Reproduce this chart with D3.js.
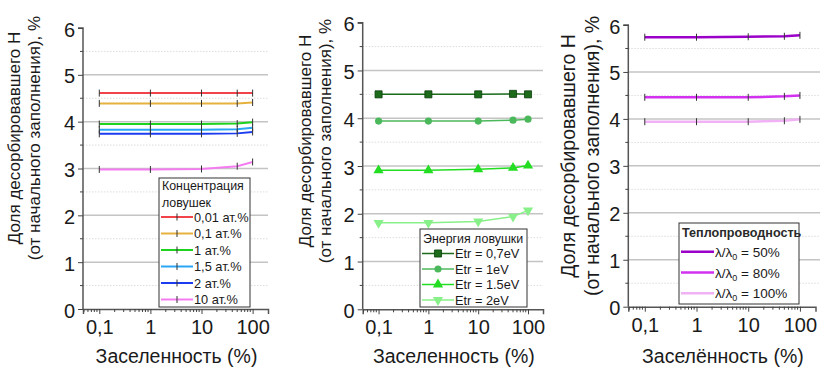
<!DOCTYPE html>
<html>
<head>
<meta charset="utf-8">
<script src="https://cdn.jsdelivr.net/npm/d3@7"></script>
<style>
  body { margin: 0; background: #fff; }
  svg { display: block; font-family: "Liberation Sans", Arial, sans-serif; }
  .tick-label { font-size: 20px; fill: #1a1a1a; }
  .axis-title { font-size: 19.5px; fill: #1a1a1a; }
  .leg-text { font-size: 13px; fill: #1a1a1a; }
</style>
</head>
<body>
<svg id="chart" width="820" height="371"></svg>
<script>
// x values (заселенность, %)
var occupancy = [0.1, 1, 10, 50, 100];
var xTickValues = [0.1, 1, 10, 100];
var xTickLabels = ["0,1", "1", "10", "100"];
var yTickValues = [0, 1, 2, 3, 4, 5, 6];

var yTitle1 = "Доля десорбировавшего Н";
var yTitle2 = "(от начального заполнения), %";

// panel 1 - trap concentration
var concTitle = ["Концентрация", "ловушек"];
var concLabels = ["0,01 ат.%", "0,1 ат.%", "1 ат.%", "1,5 ат.%", "2 ат.%", "10 ат.%"];
var concValues = [
	[4.61, 4.61, 4.61, 4.61, 4.61],
	[4.39, 4.39, 4.39, 4.39, 4.41],
	[3.95, 3.95, 3.95, 3.96, 3.99],
	[3.83, 3.83, 3.83, 3.84, 3.87],
	[3.74, 3.74, 3.74, 3.75, 3.78],
	[2.98, 2.98, 2.99, 3.05, 3.14]
];

// panel 2 - trap energy
var energyTitle = ["Энергия ловушки"];
var energyLabels = ["Etr = 0,7eV", "Etr = 1eV", "Etr = 1.5eV", "Etr = 2eV"];
var energyValues = [
	[4.50, 4.50, 4.50, 4.51, 4.50],
	[3.94, 3.94, 3.94, 3.96, 3.98],
	[2.91, 2.91, 2.93, 2.96, 3.01],
	[1.81, 1.81, 1.84, 1.94, 2.07]
];

// panel 3 - thermal conductivity
var condTitle = ["Теплопроводность"];
var condLabels = ["50%", "80%", "100%"];
var condValues = [
	[5.74, 5.74, 5.75, 5.76, 5.78],
	[4.46, 4.46, 4.46, 4.48, 4.50],
	[3.94, 3.94, 3.94, 3.96, 3.99]
];

var svg = d3.select("#chart");

// clip for the left (partly hidden) title of the 3rd panel
svg.append("defs").append("clipPath").attr("id", "clip3")
	.append("rect").attr("x", 557).attr("y", 0).attr("width", 263).attr("height", 371);

var panels = [
	{
		axisX: 83, right: 268, yTop: 28, yBottom: 309, gridRight: 268,
		t1x: 14, t2x: 34, tY: 138, tSize: 17, xTitle: "Заселенность (%)",
		values: concValues, labels: concLabels, legTitle: concTitle,
		colors: ["#f2434b", "#e6b23e", "#1ed21e", "#2aa6f4", "#1c3cf0", "#f47cf0"],
		widths: [2, 2, 2, 2, 2, 2],
		marker: "tick", legMarker: true,
		leg: {x: 159, y: 178, w: 91, h: 129, titleY: [185.5, 203], first: 217, step: 16.5, lineW: 32, font: 12.8, titleFont: 12.4}
	},
	{
		axisX: 362.7, right: 543, yTop: 22.7, yBottom: 309.3, gridRight: 543,
		t1x: 305, t2x: 325, tY: 141, tSize: 17, xTitle: "Заселенность (%)",
		values: energyValues, labels: energyLabels, legTitle: energyTitle,
		colors: ["#1b6b1b", "#4cb85c", "#22dd22", "#88f088"],
		widths: [1.5, 1.5, 1.5, 1.5],
		marker: "symbols", legMarker: true,
		leg: {x: 420, y: 229, w: 107, h: 78, titleY: [238.5], first: 253.5, step: 15.5, lineW: 32, font: 12.8, titleFont: 12.4}
	},
	{
		axisX: 628.3, right: 815.5, yTop: 25, yBottom: 306.7, gridRight: 820,
		t1x: 568, t2x: 592, tY: 156, tSize: 19.5, clip: "url(#clip3)", xTitle: "Заселённость (%)",
		values: condValues, labels: condLabels, legTitle: condTitle,
		colors: ["#9b00c8", "#d232f0", "#f0b2f4"],
		widths: [2.5, 2.5, 2.5],
		marker: "tick", legMarker: false,
		leg: {x: 679, y: 223, w: 120, h: 81, titleY: [232.5], first: 251.7, step: 20.8, lineW: 33, font: 13.5, titleFont: 12.6, titleBold: true, lambda: true}
	}
];

var symbolTypes = [d3.symbolSquare, d3.symbolCircle, d3.symbolTriangle, d3.symbolTriangle];
var symbolSizes = [50, 40, 45, 45];
var symbolRot = [0, 0, 0, 180];

function drawMarker(g, p, i, cx, cy) {
	if (p.marker === "tick") {
		g.append("line")
			.attr("x1", cx).attr("x2", cx)
			.attr("y1", cy - 3.5).attr("y2", cy + 3.5)
			.attr("stroke", "#333").attr("stroke-width", 1);
	} else {
		g.append("path")
			.attr("d", d3.symbol().type(symbolTypes[i]).size(symbolSizes[i])())
			.attr("transform", "translate(" + cx + "," + cy + ") rotate(" + symbolRot[i] + ")")
			.attr("fill", p.colors[i])
			.attr("stroke", i === 0 ? "#0d3d0d" : "none")
			.attr("stroke-width", 0.8);
	}
}

panels.forEach(function(p) {
	var x = d3.scaleLog().domain([0.048, 200]).range([p.axisX, p.right]);
	var y = d3.scaleLinear().domain([0, 6]).range([p.yBottom, p.yTop]);

	var g = svg.append("g");

	// grid
	var minorY = d3.range(0.5, 6, 1);
	g.selectAll(".minor-grid").data(minorY).enter().append("line")
		.attr("x1", p.axisX).attr("x2", p.gridRight)
		.attr("y1", function(d) { return y(d); }).attr("y2", function(d) { return y(d); })
		.attr("stroke", "#dcdcdc").attr("stroke-width", 1).attr("stroke-dasharray", "1.5,1.5");
	g.selectAll(".major-grid").data(yTickValues.filter(function(d) { return d > 0 && d < 6; })).enter().append("line")
		.attr("x1", p.axisX).attr("x2", p.gridRight)
		.attr("y1", function(d) { return y(d); }).attr("y2", function(d) { return y(d); })
		.attr("stroke", "#c4c4c4").attr("stroke-width", 1.5);

	// y axis
	var yAxis = g.append("g")
		.attr("transform", "translate(" + p.axisX + ",0)")
		.call(d3.axisLeft(y).tickValues(yTickValues).tickSize(5).tickPadding(3).tickFormat(d3.format("d")));
	yAxis.selectAll(".tick text").attr("class", "tick-label").attr("font-size", null).attr("font-family", null).attr("dy", "0.4em");
	g.append("g").selectAll("line").data(minorY).enter().append("line")
		.attr("x1", p.axisX - 3).attr("x2", p.axisX)
		.attr("y1", function(d) { return y(d); }).attr("y2", function(d) { return y(d); })
		.attr("stroke", "#444");

	// x axis
	var minorX = [];
	[0.01, 0.1, 1, 10, 100].forEach(function(dec) {
		for (var k = 2; k <= 9; k++) {
			var v = dec * k;
			if (v > 0.048 && v < 200) minorX.push(v);
		}
	});
	var xAxis = g.append("g")
		.attr("transform", "translate(0," + p.yBottom + ")")
		.call(d3.axisBottom(x).tickValues(xTickValues).tickSize(5).tickPadding(6)
			.tickFormat(function(d, i) { return xTickLabels[i]; }));
	xAxis.selectAll(".tick text").attr("class", "tick-label").attr("font-size", null).attr("font-family", null);
	g.append("g").selectAll("line").data(minorX).enter().append("line")
		.attr("x1", function(d) { return x(d); }).attr("x2", function(d) { return x(d); })
		.attr("y1", p.yBottom).attr("y2", p.yBottom + 3)
		.attr("stroke", "#444");
	[yAxis, xAxis].forEach(function(a) {
		a.select(".domain").attr("stroke", "#555").attr("stroke-width", 1.5);
		a.selectAll(".tick line").attr("stroke", "#444");
	});
	yAxis.select(".domain").attr("d", "M0," + p.yBottom + "V" + p.yTop + "H-5");

	// titles
	g.append("text").attr("class", "axis-title")
		.attr("text-anchor", "middle")
		.attr("x", (p.axisX + p.right) / 2 + 1).attr("y", 363)
		.text(p.xTitle);
	var tg = g.append("g");
	if (p.clip) tg.attr("clip-path", p.clip);
	[[p.t1x, yTitle1], [p.t2x, yTitle2]].forEach(function(t) {
		tg.append("text").attr("class", "axis-title")
			.attr("text-anchor", "middle")
			.attr("dominant-baseline", "central")
			.style("font-size", p.tSize + "px")
			.attr("transform", "translate(" + t[0] + "," + p.tY + ") rotate(-90)")
			.text(t[1]);
	});

	// series
	var line = d3.line()
		.x(function(d, i) { return x(occupancy[i]); })
		.y(function(d) { return y(d); });
	p.values.forEach(function(vals, i) {
		g.append("path").datum(vals)
			.attr("fill", "none")
			.attr("stroke", p.colors[i])
			.attr("stroke-width", p.widths[i])
			.attr("d", line);
		vals.forEach(function(v, j) {
			drawMarker(g, p, i, x(occupancy[j]), y(v));
		});
	});

	// legend
	var L = p.leg;
	var lg = g.append("g");
	lg.append("rect")
		.attr("x", L.x).attr("y", L.y).attr("width", L.w).attr("height", L.h)
		.attr("fill", "#fff").attr("stroke", "#333").attr("stroke-width", 1);
	p.legTitle.forEach(function(t, k) {
		lg.append("text").attr("class", "leg-text")
			.attr("x", L.x + 3).attr("y", L.titleY[k])
			.attr("dominant-baseline", "central")
			.style("font-size", L.titleFont + "px")
			.style("font-weight", L.titleBold ? "bold" : null)
			.style("fill", L.titleBold ? "#2a2a2a" : null)
			.text(t);
	});
	p.labels.forEach(function(lab, i) {
		var cy = L.first + i * L.step;
		lg.append("line")
			.attr("x1", L.x + 2).attr("x2", L.x + 2 + L.lineW)
			.attr("y1", cy).attr("y2", cy)
			.attr("stroke", p.colors[i]).attr("stroke-width", p.widths[i]);
		if (p.legMarker) drawMarker(lg, p, i, L.x + 2 + L.lineW / 2, cy);
		var tx = lg.append("text").attr("class", "leg-text")
			.attr("x", L.x + L.lineW + 3).attr("y", cy)
			.attr("dominant-baseline", "central")
			.style("font-size", L.font + "px");
		if (L.lambda) {
			tx.append("tspan").text("λ/λ");
			tx.append("tspan").attr("baseline-shift", "sub").style("font-size", "9px").text("0");
			tx.append("tspan").text(" = " + lab);
		} else {
			tx.text(lab);
		}
	});
});
</script>
</body>
</html>
